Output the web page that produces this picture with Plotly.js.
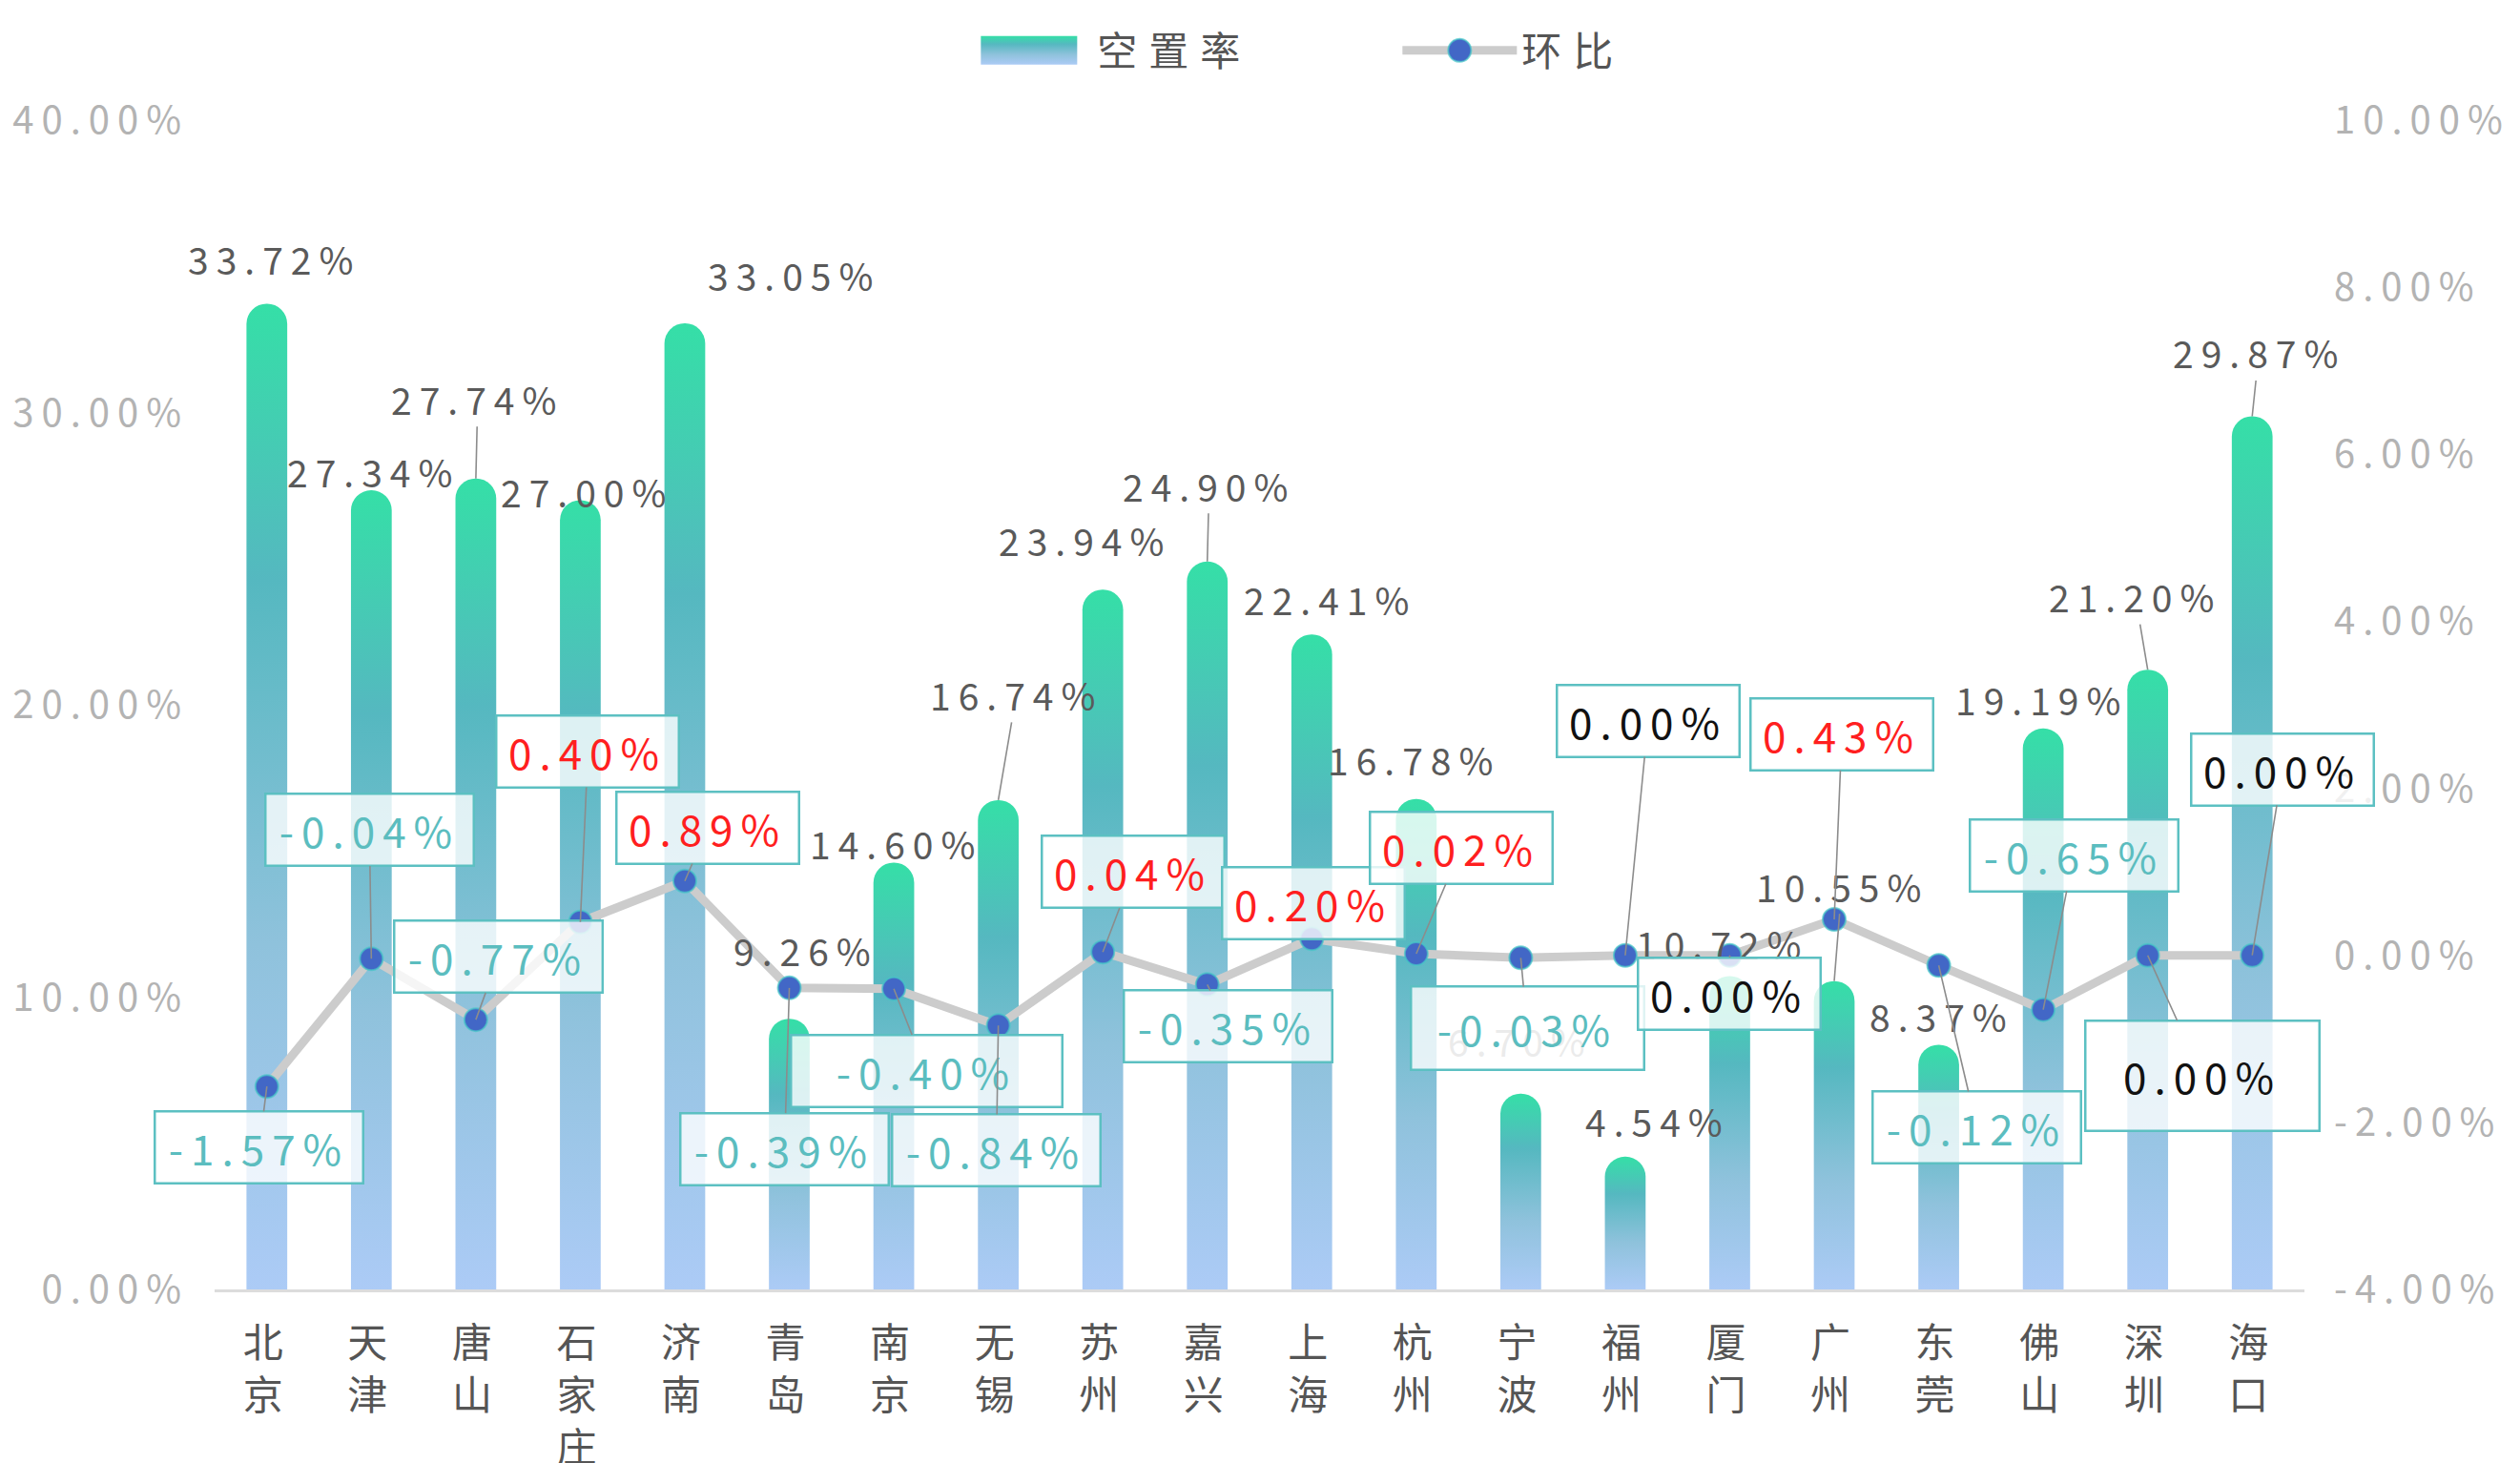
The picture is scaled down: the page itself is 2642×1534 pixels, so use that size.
<!DOCTYPE html>
<html>
<head>
<meta charset="utf-8">
<script src="https://cdn.plot.ly/plotly-3.0.1.min.js"></script>
<style>
  html, body { margin: 0; padding: 0; background: #fff; }
  #chart { width: 2642px; height: 1534px; }
  text { letter-spacing: 8px; }
  .legendtext { letter-spacing: 12px !important; }
</style>
</head>
<body>
<svg width="0" height="0" style="position:absolute">
  <defs>
    <linearGradient id="barGrad" x1="0" y1="0" x2="0" y2="1">
      <stop offset="0" stop-color="#35dfa7"/>
      <stop offset="0.28" stop-color="#55b8c0"/>
      <stop offset="0.65" stop-color="#8fc2dc"/>
      <stop offset="1" stop-color="#accbf6"/>
    </linearGradient>
  </defs>
</svg>
<div id="chart"></div>
<script>
// ---- data ----
const categories = ['北京','天津','唐山','石家庄','济南','青岛','南京','无锡','苏州','嘉兴','上海','杭州','宁波','福州','厦门','广州','东莞','佛山','深圳','海口'];
const vacancy = [33.72,27.34,27.74,27.00,33.05,9.26,14.60,16.74,23.94,24.90,22.41,16.78,6.70,4.54,10.72,10.55,8.37,19.19,21.20,29.87];
const change = [-1.57,-0.04,-0.77,0.40,0.89,-0.39,-0.40,-0.84,0.04,-0.35,0.20,0.02,-0.03,0.00,0.00,0.43,-0.12,-0.65,0.00,0.00];
const leftTicks = [0,10,20,30,40];
const rightTicks = [-4,-2,0,2,4,6,8,10];
const seriesNames = ['空置率','环比'];

// ---- label placement (pixels, styling only) ----
const barLabelOffsets = [[8,-47],[2,-20],[2,-84],[7,-9],[115,-51],[17,-72],[2,-21],[19,-111],[-19,-52],[2,-80],[19,-37],[-2,-42],[0,-56],[34,-38],[-8,-34],[8,-100],[3,-30],[-2,-31],[-13,-77],[7,-67]];
const barLabelLeader = [false,false,true,false,false,false,false,true,false,true,false,false,false,false,false,true,false,false,true,true];
const barLabelFaded = [false,false,false,false,false,false,false,false,false,false,false,false,true,false,false,false,false,false,false,false];
const lineLabelOffsets = [[-8,64],[-2,-135],[24,-66],[8,-179],[24,-56],[-5,169],[34,86],[-2,131],[32,-84],[22,44],[2,-37],[47,-111],[7,74],[24,-246],[0,40],[8,-194],[40,170],[32,-162],[57,126],[32,-195]];
const lineLabelBox = [[221,78],[221,78],[221,78],[194,78],[194,78],[221,78],[287,78],[221,78],[194,78],[221,78],[194,78],[194,78],[247,90],[194,78],[194,78],[194,78],[221,78],[221,78],[248,118],[194,78]];

const fmt = v => v.toFixed(2) + '%';
const tickText = categories.map(c => c.split('').join('<br>'));

const annotations = [];
categories.forEach((c, i) => {
  annotations.push({
    x: c, y: vacancy[i], xref: 'x', yref: 'y',
    text: fmt(vacancy[i]),
    showarrow: true, arrowhead: 0, arrowwidth: 1.6, standoff: 0,
    arrowcolor: barLabelLeader[i] ? '#8c8c8c' : 'rgba(0,0,0,0)',
    ax: barLabelOffsets[i][0], ay: barLabelOffsets[i][1],
    font: { family: 'Noto Sans CJK SC, Noto Sans, sans-serif', size: 39, color: '#5a5a5a' },
    opacity: barLabelFaded[i] ? 0.6 : 1
  });
});
categories.forEach((c, i) => {
  const v = change[i];
  const col = v > 0 ? '#ff1f1f' : (v < 0 ? '#5bbdbf' : '#111111');
  annotations.push({
    x: c, y: v, xref: 'x', yref: 'y2',
    text: fmt(v),
    showarrow: true, arrowhead: 0, arrowwidth: 1.6, standoff: 0,
    arrowcolor: '#8c8c8c',
    ax: lineLabelOffsets[i][0], ay: lineLabelOffsets[i][1],
    width: lineLabelBox[i][0] - 5, height: lineLabelBox[i][1] - 5,
    borderpad: 0, borderwidth: 2.5, bordercolor: '#5cc0c2',
    bgcolor: 'rgba(255,255,255,0.8)',
    font: { family: 'Noto Sans CJK SC, Noto Sans, sans-serif', size: 44, color: col }
  });
});

const traces = [
  {
    type: 'bar', name: seriesNames[0], x: categories, y: vacancy,
    yaxis: 'y', width: 0.39,
    marker: { color: '#55b8c0', cornerradius: '50%' },
    hoverinfo: 'skip'
  },
  {
    type: 'scatter', mode: 'lines+markers', name: seriesNames[1], x: categories, y: change,
    yaxis: 'y2',
    line: { color: '#cccccc', width: 9 },
    marker: { color: '#4267c6', size: 24, line: { color: 'rgba(70,200,200,0.7)', width: 2 } },
    hoverinfo: 'skip'
  }
];

const tickFont = { family: 'Noto Sans CJK SC, Noto Sans, sans-serif', size: 40, color: '#b3b3b3' };
const layout = {
  width: 2642, height: 1534,
  margin: { l: 225, r: 226, t: 126, b: 182 },
  paper_bgcolor: '#ffffff', plot_bgcolor: '#ffffff',
  showlegend: true,
  legend: {
    orientation: 'h', x: 0.363, xanchor: 'left', y: 1.0595, yanchor: 'middle',
    font: { family: 'Noto Sans CJK SC, sans-serif', size: 42, color: '#555555' },
    itemwidth: 120, entrywidth: 310, entrywidthmode: 'pixels',
    traceorder: 'normal', bgcolor: 'rgba(0,0,0,0)'
  },
  xaxis: {
    type: 'category', tickvals: categories, ticktext: tickText,
    range: [-0.5, categories.length - 0.5],
    showline: true, linecolor: '#dcdcdc', linewidth: 3,
    showgrid: false, zeroline: false, ticks: '',
    tickfont: { family: 'Noto Sans CJK SC, sans-serif', size: 42, color: '#555555' },
    ticklabelstandoff: 18, automargin: false
  },
  yaxis: {
    range: [0, 40], tickvals: leftTicks, ticktext: leftTicks.map(fmt),
    showgrid: false, zeroline: false, showline: false, ticks: '',
    tickfont: tickFont, ticklabelstandoff: 26, automargin: false
  },
  yaxis2: {
    range: [-4, 10], tickvals: rightTicks, ticktext: rightTicks.map(fmt),
    overlaying: 'y', side: 'right',
    showgrid: false, zeroline: false, showline: false, ticks: '',
    tickfont: tickFont, ticklabelstandoff: 30, automargin: false
  },
  annotations: annotations
};

function restyleBars() {
  document.querySelectorAll('.bars .point path').forEach(p => { p.style.fill = 'url(#barGrad)'; });
  const legendTraces = document.querySelectorAll('.legend .traces');
  if (legendTraces.length) {
    legendTraces[0].querySelectorAll('.legendpoints path').forEach(p => {
      p.setAttribute('d', 'M44,15H-57V-15H44Z');
      p.style.fill = 'url(#barGrad)';
      p.style.stroke = 'none';
    });
  }
  if (legendTraces.length > 1) {
    legendTraces[1].querySelectorAll('.legendpoints path.scatterpts').forEach(p => {
      p.setAttribute('d', 'M12,0A12,12 0 1,1 0,-12A12,12 0 0,1 12,0Z');
      p.style.strokeWidth = '2px';
    });
  }
}

const gd = document.getElementById('chart');
Plotly.newPlot(gd, traces, layout, { displayModeBar: false, staticPlot: true }).then(() => {
  restyleBars();
  gd.on && gd.on('plotly_afterplot', restyleBars);
  setTimeout(restyleBars, 200);
});
</script>
</body>
</html>
